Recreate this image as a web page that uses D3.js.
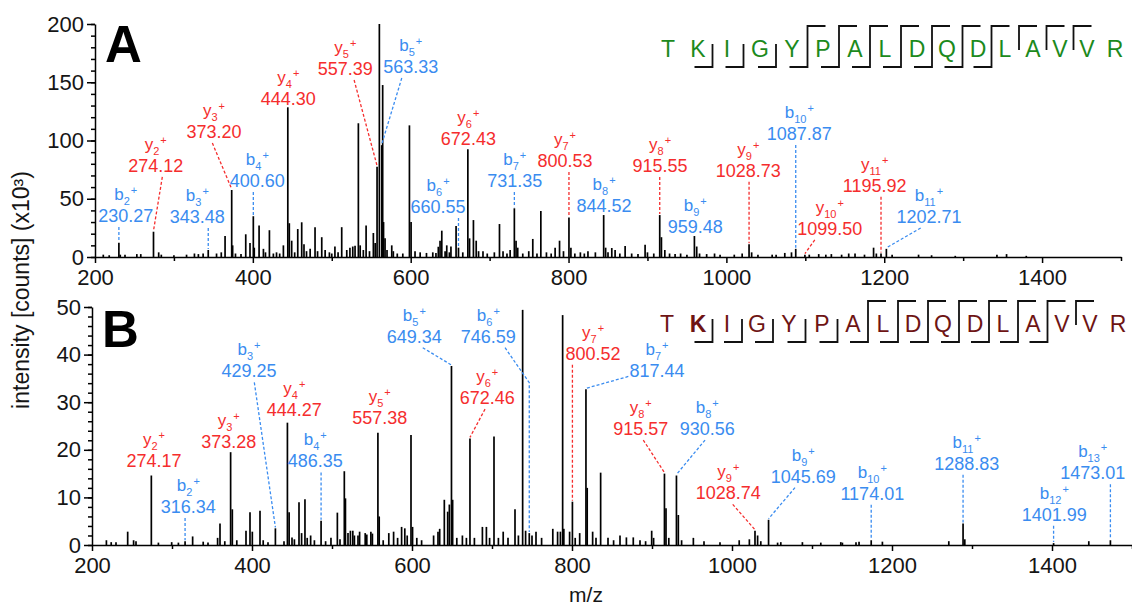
<!DOCTYPE html>
<html>
<head>
<meta charset="utf-8">
<script src="https://cdn.jsdelivr.net/npm/d3@7"></script>
<style>
  body { margin: 0; background: #fff; }
  svg { display: block; }
</style>
</head>
<body>
<svg id="chart" width="1132" height="609"></svg>
<script>
// Peptide sequence shown above both spectra
const sequence = "TKIGYPALDQDLAVVR";

// Spectrum A: unassigned peaks [m/z, intensity (x10^3 counts)]
const peaksA = [
  [210.5,2],[218,1.5],[232,2],[238,2],[253,2.5],[258,2.5],[280.7,4],[284,2],[300,1.5],[316,2],
  [326,3],[331,2.5],[337,3],[354,3],[360,4],[364.8,18],[374.4,10],[378,3],[385,2.5],[391,19.5],
  [396.4,12],[401.8,8],[407.9,27],[413.4,7],[416,4],[421,23],[426,3],[430,4],[434,3],[438.7,10],
  [446.2,29],[449.2,14],[453,4],[456.9,24],[461.9,29.8],[464.8,11],[468,5],[472.6,7],[478.8,25.6],[482,5],
  [487.3,17],[491.6,6],[497,4],[500,3],[504,9],[508,4],[512.6,25.6],[519,6],[523,8],[526.6,9],
  [529.5,9.7],[533.7,114.8],[536,10],[540,6],[543.5,27],[547.8,5],[552.7,20.6],[555,12],[560.3,200],[564.5,147.6],
  [565.6,30],[567.5,16],[570,6],[576,10],[578,5],[583,3],[590,3],[598.4,113],[600.5,30],[605.5,5],
  [612,4],[620,3.5],[628,4],[632,3.5],[635,8.8],[637.2,14],[639.4,22.6],[643.6,5],[645.7,10],[649,4],
  [651,9],[657.5,26.6],[666,4],[674.6,16],[679.5,31.7],[683,14],[686,5],[691.6,5],[697,3],[706,4],
  [712.5,28.3],[717,5],[722,3],[726,6],[733.5,14],[735.6,8],[742,3],[749.6,5],[754.7,15.5],[760,3],
  [764.9,39.5],[772,4],[778,3],[783,8],[788.6,14],[793.6,5],[803,8],[808,3],[815,4],[820,3],
  [824.6,5],[834,4],[847,8],[850,4],[854.8,7.7],[859,6],[865,3],[871.7,9.4],[880,3],[888,2.5],
  [897,10.6],[900,4],[908,3],[917.7,17],[922,6],[928,3],[935,2.5],[942,3],[950,2],[962.4,9],
  [966,3],[975,2.5],[985,3],[992,2],[1010,2],[1020,3],[1032,4],[1040,2],[1058,2],[1063,2],
  [1074,3.5],[1082.5,4],[1105,2],[1117,2.5],[1126,2],[1133,2.5],[1146,2],[1155,3],[1163,3],[1175,2],
  [1186.5,8],[1190,3],[1210,2],[1243.5,2],[1260,1.5],[1290,1],[1342.8,2],[1355,2.5],[1380,1]
];

// Spectrum A: assigned b / y fragment ions
const ionsA = [
  {type:"b", n:2,  mz:230.27,  h:12.3},
  {type:"y", n:2,  mz:274.12,  h:21.7},
  {type:"b", n:3,  mz:343.48,  h:6},
  {type:"y", n:3,  mz:373.20,  h:57.5},
  {type:"b", n:4,  mz:400.60,  h:35},
  {type:"y", n:4,  mz:444.30,  h:128.5},
  {type:"y", n:5,  mz:557.39,  h:77.5},
  {type:"b", n:5,  mz:563.33,  h:96},
  {type:"b", n:6,  mz:660.55,  h:8},
  {type:"y", n:6,  mz:672.43,  h:92.4},
  {type:"b", n:7,  mz:731.35,  h:41.8},
  {type:"y", n:7,  mz:800.53,  h:34},
  {type:"b", n:8,  mz:844.52,  h:36},
  {type:"y", n:8,  mz:915.55,  h:36},
  {type:"b", n:9,  mz:959.48,  h:18},
  {type:"y", n:9,  mz:1028.73, h:11},
  {type:"b", n:10, mz:1087.87, h:7},
  {type:"y", n:10, mz:1099.50, h:2},
  {type:"y", n:11, mz:1195.92, h:3},
  {type:"b", n:11, mz:1202.71, h:7}
];

// Spectrum B: unassigned peaks [m/z, intensity (x10^3 counts)]
const peaksB = [
  [218,1],[224,0.6],[230,0.6],[244.6,2.8],[252,1],[255,0.8],[283,0.5],[299.6,0.6],[308,0.5],[325.8,1.8],
  [339,0.7],[345,0.5],[357,1.5],[360,4.5],[366,0.8],[375.4,7.5],[381,1],[392.5,3],[397.5,6.9],[400.4,2.8],
  [410,7.2],[414,1],[420,0.6],[440,0.8],[446.4,6.9],[450,1.6],[453,1.2],[458.75,9],[462,2.5],[466.2,9.6],
  [469,1.5],[473.3,2],[478,1],[492,0.8],[498.7,1.5],[506.7,6.8],[510,1.2],[515.4,15.5],[516.8,9.8],[520,2.5],
  [523,3],[526,3],[528,2],[532.5,2],[534.5,2.8],[541.5,2.5],[543.5,2.2],[548.6,2.8],[550.5,2.4],[559,6],
  [564,1],[571,2.5],[577,2.8],[582,1.5],[587,3.8],[591,3.5],[594,2],[598.75,23.1],[600.7,3.8],[606,1.5],
  [612,1],[627,2],[632.5,2.8],[634.6,3.4],[640.4,9.5],[644.6,7],[646.7,8.5],[650.8,9.5],[656,1.5],[663,2],
  [668,1.5],[678,1.5],[688,3.8],[693,3.8],[697,1.5],[702.5,22.8],[708,1.5],[714,2.8],[720,1.5],[728.75,7.5],
  [733,2],[738.3,49.4],[742,3],[750,2],[755,2.8],[762,1.5],[776,3.4],[782,2.8],[785.5,2.8],[788.3,48.3],
  [789.8,3.4],[797,2.8],[804,1.5],[809.6,2.5],[819,12],[825.8,2.8],[830,1.5],[835.8,15.2],[845,1.5],[852,1],
  [860,2],[868,1.6],[876.6,1.6],[885,1],[892,0.8],[899.6,3],[902,1.5],[917.5,7.7],[921,1.5],[932.9,6.3],
  [937,1],[951.7,1.5],[965,0.8],[985,0.6],[1009,1],[1021.7,1.2],[1032,2],[1036,0.8],[1057,0.5],[1061,0.6],
  [1088,0.6],[1111,0.5],[1136,0.6],[1138,0.5],[1155,0.6],[1158.8,0.7],[1188,0.7],[1271,0.8],[1291,1.2],[1446,0.8]
];

// Spectrum B: assigned b / y fragment ions
const ionsB = [
  {type:"y", n:2,  mz:274.17,  h:14.6},
  {type:"b", n:2,  mz:316.34,  h:0.8},
  {type:"y", n:3,  mz:373.28,  h:19.5},
  {type:"b", n:3,  mz:429.25,  h:3.5},
  {type:"y", n:4,  mz:444.27,  h:25.7},
  {type:"b", n:4,  mz:486.35,  h:5.1},
  {type:"y", n:5,  mz:557.38,  h:23.6},
  {type:"b", n:5,  mz:649.34,  h:37.6},
  {type:"y", n:6,  mz:672.46,  h:22.4},
  {type:"b", n:6,  mz:746.59,  h:2.5},
  {type:"y", n:7,  mz:800.52,  h:9.1},
  {type:"b", n:7,  mz:817.44,  h:32.7},
  {type:"y", n:8,  mz:915.57,  h:15},
  {type:"b", n:8,  mz:930.56,  h:14.6},
  {type:"y", n:9,  mz:1028.74, h:3},
  {type:"b", n:9,  mz:1045.69, h:5.3},
  {type:"b", n:10, mz:1174.01, h:1},
  {type:"b", n:11, mz:1288.83, h:4.5},
  {type:"b", n:12, mz:1401.99, h:0.4},
  {type:"b", n:13, mz:1473.01, h:1}
];

// Axis ticks
const xMajorTicks = [200, 400, 600, 800, 1000, 1200, 1400];
const xMinorTicks = [300, 500, 700, 900, 1100, 1300, 1500];
const yMajorA = [0, 50, 100, 150, 200];
const yMinorA = d3.range(0, 201, 10);
const yMajorB = [0, 10, 20, 30, 40, 50];
const yMinorB = d3.range(0, 51, 2);

// Label placement in data units: [label m/z, label baseline intensity, leader kind, leader top m/z, leader top intensity]
// kind: "v" vertical, "s" slanted to the peak top, "n" no leader, "k" kinked (slant then vertical)
const labelLayoutA = {
  b2:[238.9,30.0,"v"], y2:[276.9,73.0,"s",285.3], b3:[329.7,29.2,"v"], y3:[350.8,102.1,"s",348.7],
  b4:[405.7,60.1,"v"], y4:[445.0,130.5,"n"], y5:[517.2,156.2,"s",528.3], b5:[600.1,157.9,"s",588.7],
  b6:[634.7,37.8,"v"], y6:[673.1,96.1,"n"], b7:[731.8,60.1,"v"], y7:[795.5,77.3,"v"],
  b8:[845.0,38.6,"n"], y8:[916.0,73.0,"v"], b9:[960.6,20.6,"n"], y9:[1027.8,68.9,"v"],
  b10:[1092.4,100.4,"v"], y10:[1131.0,19.0,"s",1112.0], y11:[1187.9,56.0,"v"], b11:[1256.7,29.2,"s",1246.2]
};
const labelLayoutB = {
  y2:[277.5,16.4,"n"], b2:[320.4,6.7,"v"], y3:[370.9,20.4,"n"], b3:[396.3,35.2,"s",402.9],
  y4:[452.9,27.0,"n"], b4:[479.1,16.3,"v"], y5:[559.6,25.4,"n"], b5:[602.9,42.5,"s",613.4],
  y6:[694.1,29.6,"s",691.3], b6:[695.4,42.5,"k",716.3,34.1], y7:[826.3,38.9,"v"], b7:[906.3,35.2,"s",870.4,35.4],
  y8:[885.9,23.1,"s",889.1], b8:[969.1,23.1,"s",966.3], y9:[995.4,9.6,"s",1000.9], b9:[1089.1,13.1,"s",1078.75],
  b10:[1175.4,9.5,"v"], b11:[1293.4,15.8,"v"], b12:[1402.9,5.1,"v"], b13:[1450.9,13.8,"v"]
};

// Residue centre positions (px) of the sequence strip
const seqXA = [668,698,727,760,792,823,855,885,917,947,978,1005,1033,1060,1087,1115];
const seqXB = [667,698,727,757,789,822,853,883,913,943,975,1003,1033,1062,1090,1118];

const FONT = "'Liberation Sans', Arial, Helvetica, sans-serif";
const COLOR = { y: "#f52d2d", b: "#3a8cf0" };

const svg = d3.select("#chart").attr("font-family", FONT);

function drawPanel(p) {
  const g = svg.append("g");
  const x = d3.scaleLinear().domain([200, 1500]).range(p.xRange);
  const y = d3.scaleLinear().domain([0, p.yMax]).range(p.yRange);

  // stick spectrum
  const bars = p.peaks.concat(p.ions.map(d => [d.mz, d.h]));
  g.append("g").selectAll("line").data(bars).join("line")
    .attr("x1", d => x(d[0])).attr("x2", d => x(d[0]))
    .attr("y1", y(0)).attr("y2", d => y(d[1]))
    .attr("stroke", "#000").attr("stroke-width", 1.7);

  // axes
  const styleAxis = sel => {
    sel.selectAll("path, line").attr("stroke", "#000").attr("stroke-width", 1.5);
    sel.selectAll("text").attr("font-size", 22).attr("font-family", FONT).attr("fill", "#151515");
  };
  g.append("g").attr("transform", `translate(0,${y(0)})`)
    .call(d3.axisBottom(x).tickValues(xMinorTicks).tickSize(4).tickFormat(""))
    .call(s => s.select(".domain").remove()).call(styleAxis);
  g.append("g").attr("transform", `translate(0,${y(0)})`)
    .call(d3.axisBottom(x).tickValues(xMajorTicks).tickSize(6).tickSizeOuter(0).tickPadding(6.5).tickFormat(d3.format("d")))
    .call(styleAxis);
  g.append("g").attr("transform", `translate(${p.xRange[0]},0)`)
    .call(d3.axisLeft(y).tickValues(p.yMinor).tickSize(4).tickFormat(""))
    .call(s => s.select(".domain").remove()).call(styleAxis);
  g.append("g").attr("transform", `translate(${p.xRange[0]},0)`)
    .call(d3.axisLeft(y).tickValues(p.yMajor).tickSize(8).tickSizeOuter(0).tickPadding(3))
    .call(styleAxis);

  // panel letter
  g.append("text").attr("x", p.xRange[0] + 10).attr("y", p.letterY)
    .attr("font-size", 51).attr("font-weight", "bold").attr("fill", "#000").text(p.letter);

  // ion annotations
  p.ions.forEach(ion => {
    const key = ion.type + ion.n;
    const L = p.layout[key];
    const col = COLOR[ion.type];
    const lx = x(L[0]), ly = y(L[1]);
    const px = x(ion.mz), py = y(ion.h);

    const name = g.append("text").attr("x", lx).attr("y", ly - 22)
      .attr("text-anchor", "middle").attr("fill", col);
    name.append("tspan").attr("font-size", 17).text(ion.type);
    name.append("tspan").attr("font-size", 11).attr("dy", 5).text(ion.n);
    name.append("tspan").attr("font-size", 11).attr("dy", -11).attr("dx", 1).text("+");

    g.append("text").attr("x", lx).attr("y", ly).attr("text-anchor", "middle")
      .attr("font-size", 18).attr("fill", col).text(ion.mz.toFixed(2));

    let pts = null;
    if (L[2] === "v") pts = [[px, ly + 5], [px, py - 1]];
    else if (L[2] === "s") pts = [[x(L[3]), L[4] !== undefined ? y(L[4]) : ly + 5], [px, py - 1]];
    else if (L[2] === "k") pts = [[x(L[3]), ly + 5], [px, y(L[4])], [px, py - 1]];
    if (pts) {
      g.append("path").attr("d", d3.line()(pts)).attr("fill", "none")
        .attr("stroke", col).attr("stroke-width", 1.3).attr("stroke-dasharray", "3,2");
    }
  });

  // sequence strip with fragment cleavage markers
  const seq = g.append("g");
  sequence.split("").forEach((aa, i) => {
    seq.append("text").attr("x", p.seqX[i]).attr("y", p.seqBase)
      .attr("text-anchor", "middle").attr("font-size", 23)
      .attr("font-weight", p.boldIdx.includes(i) ? "bold" : "normal")
      .attr("fill", p.seqColor).text(aa);
  });
  const N = sequence.length;
  const sites = d3.range(1, N).map(s => ({
    s,
    b: p.ions.some(d => d.type === "b" && d.n === s),
    y: p.ions.some(d => d.type === "y" && N - d.n === s)
  })).filter(d => d.b || d.y);
  const B = p.seqBase;
  sites.forEach(d => {
    const bx = (p.seqX[d.s - 1] + p.seqX[d.s]) / 2;
    let path;
    if (d.b && d.y) path = `M${bx - 18},${B + 10}H${bx}V${B - 31}H${bx + 18}`;
    else if (d.b) path = `M${bx - 18},${B + 10}H${bx}V${B - 13}`;
    else path = `M${bx + 18},${B - 31}H${bx}V${B - 7}`;
    seq.append("path").attr("d", path).attr("fill", "none")
      .attr("stroke", "#111").attr("stroke-width", 1.8);
  });
}

drawPanel({
  letter: "A", letterY: 62, xRange: [95, 1121], yRange: [257, 24], yMax: 200,
  yMajor: yMajorA, yMinor: yMinorA, peaks: peaksA, ions: ionsA, layout: labelLayoutA,
  seqX: seqXA, seqBase: 57, seqColor: "#1c8a1c", boldIdx: []
});
drawPanel({
  letter: "B", letterY: 347, xRange: [92, 1132], yRange: [545, 307], yMax: 50,
  yMajor: yMajorB, yMinor: yMinorB, peaks: peaksB, ions: ionsB, layout: labelLayoutB,
  seqX: seqXB, seqBase: 332, seqColor: "#6e1414", boldIdx: [1]
});

// shared axis titles
svg.append("text").attr("transform", "translate(29,290) rotate(-90)")
  .attr("text-anchor", "middle").attr("font-size", 23).attr("fill", "#151515")
  .text("intensity [counts] (x10³)");
svg.append("text").attr("x", 586).attr("y", 602).attr("text-anchor", "middle")
  .attr("font-size", 21).attr("fill", "#151515").text("m/z");
</script>
</body>
</html>
